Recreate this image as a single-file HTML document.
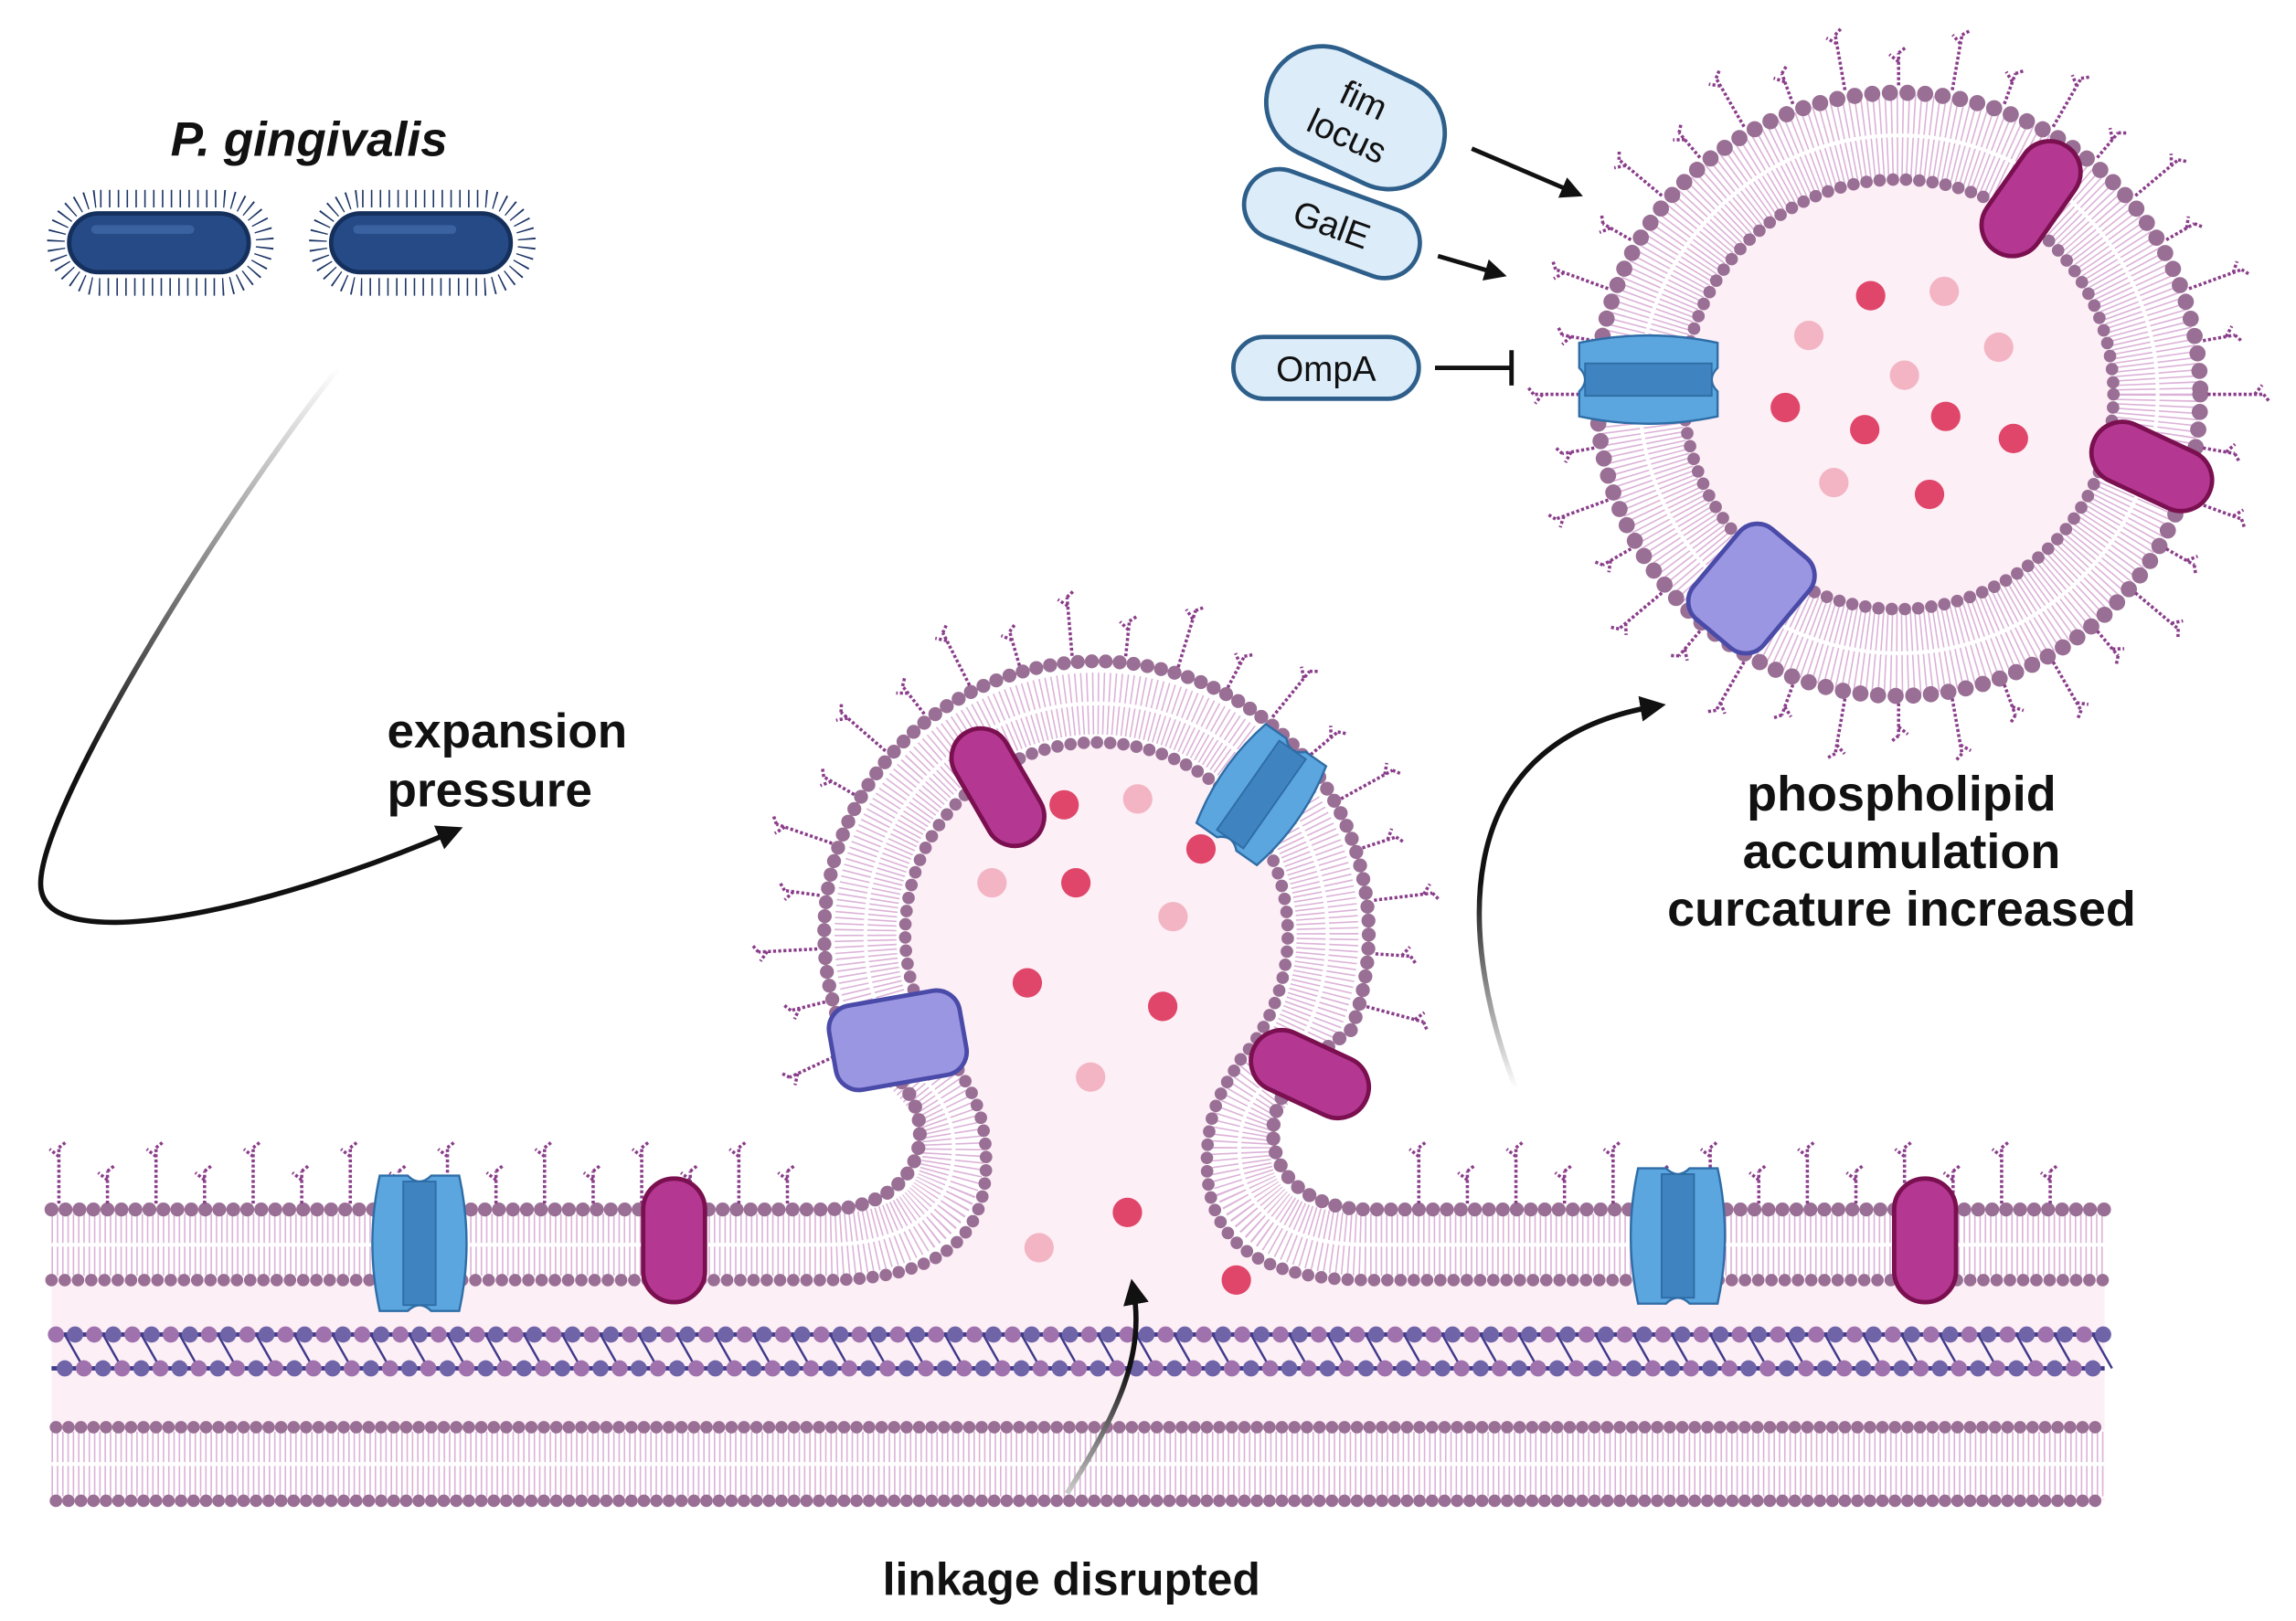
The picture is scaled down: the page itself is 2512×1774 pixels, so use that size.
<!DOCTYPE html>
<html><head><meta charset="utf-8"><style>
html,body{margin:0;padding:0;background:#fff}
svg{display:block}
text{font-family:"Liberation Sans",Arial,sans-serif;fill:#111}
</style></head><body>
<svg id="s" width="2512" height="1774" viewBox="0 0 1560 1101.7" xmlns="http://www.w3.org/2000/svg">
<defs>
<marker id="ah" viewBox="0 0 10 10" refX="6" refY="5" markerWidth="5" markerHeight="5" orient="auto"><path d="M0,0 L10,5 L0,10 z" fill="#111"/></marker>
<linearGradient id="g1" gradientUnits="userSpaceOnUse" x1="0" y1="250" x2="0" y2="520"><stop offset="0" stop-color="#fff"/><stop offset="1" stop-color="#111"/></linearGradient>
<linearGradient id="g2" gradientUnits="userSpaceOnUse" x1="0" y1="1015" x2="0" y2="930"><stop offset="0" stop-color="#ccc"/><stop offset="1" stop-color="#111"/></linearGradient>
<linearGradient id="g3" gradientUnits="userSpaceOnUse" x1="0" y1="740" x2="0" y2="600"><stop offset="0" stop-color="#fff"/><stop offset="1" stop-color="#111"/></linearGradient>
</defs>

<text x="210" y="106" font-size="33" font-weight="bold" font-style="italic" text-anchor="middle">P. gingivalis</text>
<g>
<rect x="38" y="135" width="142" height="60" rx="30" fill="none" stroke="#1d3566" stroke-width="12" stroke-dasharray="1 5"/>
<rect x="47" y="145" width="122" height="40" rx="20" fill="#254a86" stroke="#15305c" stroke-width="3"/>
<rect x="62" y="153" width="70" height="6" rx="3" fill="#3a62a0"/>
<rect x="216" y="135" width="142" height="60" rx="30" fill="none" stroke="#1d3566" stroke-width="12" stroke-dasharray="1 5"/>
<rect x="225" y="145" width="122" height="40" rx="20" fill="#254a86" stroke="#15305c" stroke-width="3"/>
<rect x="240" y="153" width="70" height="6" rx="3" fill="#3a62a0"/>
</g>

<path d="M230,250 C150,350 20,560 28,605 C36,650 180,620 308,565" fill="none" stroke="url(#g1)" stroke-width="3.5" marker-end="url(#ah)"/>
<text x="263" y="508" font-size="33" font-weight="bold">expansion</text>
<text x="263" y="548" font-size="33" font-weight="bold">pressure</text>

<path d="M35,870 H560 C640,870 670,840 670,790 C670,750 655,735 647,720 A130,130 0 1 1 843,720 C835,735 820,750 820,790 C820,840 850,870 930,870 H1430 V1020 H35 Z" fill="#fdeff6"/>
<path d="M35,846 H560 C620,846 648,820 648,780 C648,745 620,728 607,710 A157,157 0 1 1 883,710 C870,728 842,745 842,780 C842,820 870,846 930,846 H1430" fill="none" stroke="#fff" stroke-width="44"/>
<path d="M35,846 H560 C620,846 648,820 648,780 C648,745 620,728 607,710 A157,157 0 1 1 883,710 C870,728 842,745 842,780 C842,820 870,846 930,846 H1430" fill="none" stroke="#dcb2d8" stroke-width="42" stroke-dasharray="1 2.6"/>
<path d="M35,846 H560 C620,846 648,820 648,780 C648,745 620,728 607,710 A157,157 0 1 1 883,710 C870,728 842,745 842,780 C842,820 870,846 930,846 H1430" fill="none" stroke="#fff" stroke-width="2.5"/>
<path d="M35,822 H560 C600,822 625,800 625,770 C625,740 600,720 572,700 A185,185 0 1 1 918,700 C890,720 865,740 865,770 C865,800 890,822 930,822 H1430" fill="none" stroke="#9a6f95" stroke-width="9.5" stroke-dasharray="0 9.5" stroke-linecap="round"/>
<path d="M35,870 H560 C640,870 670,840 670,790 C670,750 655,735 647,720 A130,130 0 1 1 843,720 C835,735 820,750 820,790 C820,840 850,870 930,870 H1430" fill="none" stroke="#9a6f95" stroke-width="8.5" stroke-dasharray="0 9" stroke-linecap="round"/>

<g id="pg"></g>
<line x1="35" y1="907" x2="1430" y2="907" stroke="#3f3a8a" stroke-width="3"/>
<line x1="35" y1="930" x2="1430" y2="930" stroke="#3f3a8a" stroke-width="3"/>
<line x1="38" y1="907" x2="1430" y2="907" stroke="#a072ad" stroke-width="11" stroke-dasharray="0 26" stroke-linecap="round"/>
<line x1="51" y1="907" x2="1430" y2="907" stroke="#6f64a8" stroke-width="11" stroke-dasharray="0 26" stroke-linecap="round"/>
<line x1="44" y1="930" x2="1430" y2="930" stroke="#6f64a8" stroke-width="11" stroke-dasharray="0 26" stroke-linecap="round"/>
<line x1="57" y1="930" x2="1430" y2="930" stroke="#a072ad" stroke-width="11" stroke-dasharray="0 26" stroke-linecap="round"/>

<rect x="35" y="972" width="1395" height="46" fill="#fff"/>
<line x1="35" y1="995" x2="1430" y2="995" stroke="#dcb2d8" stroke-width="44" stroke-dasharray="1 2.6"/>
<line x1="35" y1="995" x2="1430" y2="995" stroke="#fff" stroke-width="2.5"/>
<line x1="38" y1="970" x2="1430" y2="970" stroke="#9a6f95" stroke-width="8.5" stroke-dasharray="0 8.5" stroke-linecap="round"/>
<line x1="38" y1="1020" x2="1430" y2="1020" stroke="#9a6f95" stroke-width="8.5" stroke-dasharray="0 8.5" stroke-linecap="round"/>

<circle cx="1290" cy="268" r="176" fill="none" stroke="#dcb2d8" stroke-width="56" stroke-dasharray="1 2.6"/>
<circle cx="1290" cy="268" r="176" fill="none" stroke="#fff" stroke-width="2.5"/>
<circle cx="1290" cy="268" r="146" fill="#fdeff6"/>
<circle cx="1290" cy="268" r="205" fill="none" stroke="#9a6f95" stroke-width="11" stroke-dasharray="0 12" stroke-linecap="round"/>
<circle cx="1290" cy="268" r="146" fill="none" stroke="#9a6f95" stroke-width="8.5" stroke-dasharray="0 9" stroke-linecap="round"/>

<g id="spk" stroke="#8a3d8a" stroke-width="2.2" fill="none" stroke-dasharray="2 1.5"></g>

<g fill="#e0466a">
<circle cx="1271" cy="201" r="10"/><circle cx="1213" cy="277" r="10"/><circle cx="1267" cy="292" r="10"/><circle cx="1322" cy="283" r="10"/><circle cx="1368" cy="298" r="10"/><circle cx="1311" cy="336" r="10"/>
<circle cx="723" cy="547" r="10"/><circle cx="816" cy="577" r="10"/><circle cx="731" cy="600" r="10"/><circle cx="698" cy="668" r="10"/><circle cx="790" cy="684" r="10"/><circle cx="766" cy="824" r="10"/><circle cx="840" cy="870" r="10"/>
</g>
<g fill="#f3b5c4">
<circle cx="1321" cy="198" r="10"/><circle cx="1229" cy="228" r="10"/><circle cx="1358" cy="236" r="10"/><circle cx="1294" cy="255" r="10"/><circle cx="1246" cy="328" r="10"/>
<circle cx="773" cy="543" r="10"/><circle cx="674" cy="600" r="10"/><circle cx="797" cy="623" r="10"/><circle cx="741" cy="732" r="10"/><circle cx="706" cy="848" r="10"/>
</g>

<g id="prot"></g>

<g transform="translate(921,80) rotate(25)">
<rect x="-63" y="-38" width="126" height="76" rx="38" fill="#dcecf9" stroke="#2e5f8a" stroke-width="3"/>
<text y="-5" font-size="24" text-anchor="middle">fim</text><text y="22" font-size="24" text-anchor="middle">locus</text></g>
<g transform="translate(905,152) rotate(20)">
<rect x="-62" y="-24" width="124" height="48" rx="24" fill="#dcecf9" stroke="#2e5f8a" stroke-width="3"/>
<text y="9" font-size="24" text-anchor="middle">GalE</text></g>
<g transform="translate(901,250)">
<rect x="-63" y="-21" width="126" height="42" rx="21" fill="#dcecf9" stroke="#2e5f8a" stroke-width="3"/>
<text y="9" font-size="24" text-anchor="middle">OmpA</text></g>
<line x1="1000" y1="101" x2="1070" y2="131" stroke="#111" stroke-width="3" marker-end="url(#ah)"/>
<line x1="977" y1="174" x2="1018" y2="186" stroke="#111" stroke-width="3" marker-end="url(#ah)"/>
<line x1="975" y1="250" x2="1027" y2="250" stroke="#111" stroke-width="3"/>
<line x1="1027" y1="238" x2="1027" y2="262" stroke="#111" stroke-width="3"/>

<path d="M1030,740 C995,650 975,505 1125,480" fill="none" stroke="url(#g3)" stroke-width="3.5" marker-end="url(#ah)"/>
<path d="M725,1015 C760,960 778,920 770,876" fill="none" stroke="url(#g2)" stroke-width="3.5" marker-end="url(#ah)"/>

<text x="1292" y="551" font-size="33.5" font-weight="bold" text-anchor="middle">phospholipid</text>
<text x="1292" y="590" font-size="33.5" font-weight="bold" text-anchor="middle">accumulation</text>
<text x="1292" y="629" font-size="33.5" font-weight="bold" text-anchor="middle">curcature increased</text>
<text x="728" y="1084" font-size="31" font-weight="bold" text-anchor="middle">linkage disrupted</text>

<script>
var NS="http://www.w3.org/2000/svg";
function el(p,t,a){var e=document.createElementNS(NS,t);for(var k in a)e.setAttribute(k,a[k]);p.appendChild(e);return e;}
var spk=document.getElementById('spk');
function spike(x1,y1,ang,len){var dx=Math.cos(ang),dy=Math.sin(ang);var x2=x1+dx*len,y2=y1+dy*len;
 el(spk,'line',{x1:x1,y1:y1,x2:x2,y2:y2});
 var a2=ang-0.9;el(spk,'line',{x1:x2-dx*6,y1:y2-dy*6,x2:x2-dx*6+Math.cos(a2)*8,y2:y2-dy*6+Math.sin(a2)*8});
 el(spk,'line',{x1:x2,y1:y2,x2:x2+Math.cos(ang+0.9)*6,y2:y2+Math.sin(ang+0.9)*6});}
var i=0;
for(var x=40;x<1425;x+=33){i++;if(x>545&&x<945)continue;spike(x,818,-Math.PI/2,i%2?38:22);}
i=0;
for(var a=-205;a<=25;a+=11){i++;var r=a*Math.PI/180;spike(745+Math.cos(r)*190,635+Math.sin(r)*190,r,i%2?40:24);}
i=0;
for(var a=0;a<360;a+=10){i++;var r=a*Math.PI/180;spike(1290+Math.cos(r)*210,268+Math.sin(r)*210,r,i%2?38:22);}
var pg=document.getElementById('pg');
for(var x=44;x<1425;x+=26){el(pg,'line',{x1:x,y1:907,x2:x+13,y2:930,stroke:'#3f3a8a','stroke-width':1.5});}
var pr=document.getElementById('prot');
function cap(cx,cy,w,h,rot,fill,st){var g=el(pr,'g',{transform:'translate('+cx+','+cy+') rotate('+rot+')'});
 el(g,'rect',{x:-w/2,y:-h/2,width:w,height:h,rx:Math.min(w,h)/2,fill:fill,stroke:st,'stroke-width':3});}
function box(cx,cy,w,h,rot){var g=el(pr,'g',{transform:'translate('+cx+','+cy+') rotate('+rot+')'});
 el(g,'rect',{x:-w/2,y:-h/2,width:w,height:h,rx:16,fill:'#9a96e2',stroke:'#4a4aa8','stroke-width':3});}
function chan(cx,cy,w,h,rot){var g=el(pr,'g',{transform:'translate('+cx+','+cy+') rotate('+rot+')'});
 el(g,'path',{d:'M'+(-w/2+6)+','+(-h/2)+' L-8,'+(-h/2)+' Q0,'+(-h/2+8)+' 8,'+(-h/2)+' L'+(w/2-6)+','+(-h/2)+' Q'+(w/2+4)+',0 '+(w/2-6)+','+(h/2)+' L8,'+(h/2)+' Q0,'+(h/2-8)+' -8,'+(h/2)+' L'+(-w/2+6)+','+(h/2)+' Q'+(-w/2-4)+',0 '+(-w/2+6)+','+(-h/2)+'Z',fill:'#5ca6df',stroke:'#2f6da6','stroke-width':1.5});
 el(g,'rect',{x:-11,y:-h/2+4,width:22,height:h-8,fill:'#3f84c0',stroke:'#2f6da6','stroke-width':1.2});}
chan(285,845,66,92,0);chan(1140,840,66,92,0);
cap(458,843,42,84,0,'#b43892','#7a1050');cap(1308,843,42,84,0,'#b43892','#7a1050');
cap(678,535,40,86,-30,'#b43892','#7a1050');chan(857,540,62,82,35);
box(610,707,90,58,-10);cap(890,730,84,42,25,'#b43892','#7a1050');
cap(1380,135,42,86,35,'#b43892','#7a1050');cap(1462,317,86,42,25,'#b43892','#7a1050');
chan(1120,258,62,94,90);box(1190,400,62,80,40);
</script>
</svg>
</body></html>
